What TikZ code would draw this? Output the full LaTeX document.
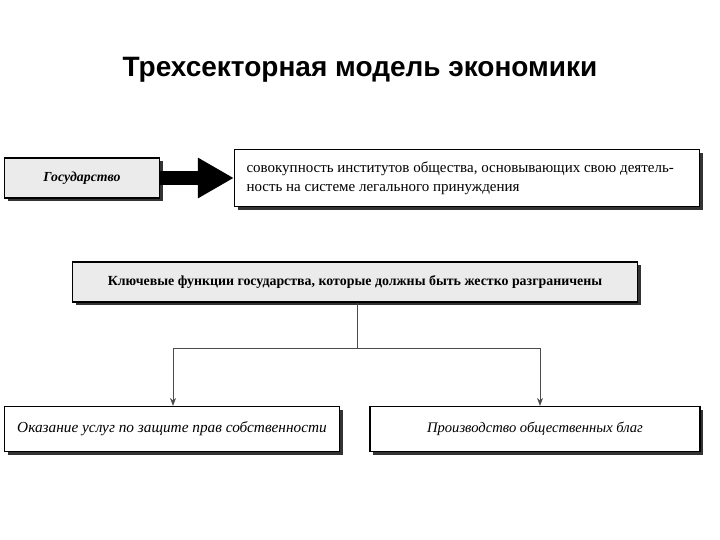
\documentclass[tikz,border=0pt]{standalone}
\usepackage{fontspec}
\setmainfont{Liberation Serif}
\newfontfamily\titlefont{Liberation Sans}
\usetikzlibrary{arrows.meta}
\tikzset{
 gbox/.style={draw=black,line width=1.2pt,fill=black!8,inner sep=4pt},
 wbox/.style={draw=black,line width=1.2pt,fill=white,inner sep=6pt},
 conn/.style={draw=black!70,line width=0.7pt,-{Stealth[length=8pt,width=6pt]}}
}
\begin{document}
\begin{tikzpicture}[x=1pt,y=-1pt]
\useasboundingbox (0,0) rectangle (720,540);
\node[font=\titlefont\bfseries\fontsize{28}{32}\selectfont] (title) at (360,70) {Трехсекторная модель экономики};
% shadows
\fill[black!80] (8,161) rectangle (163,201);
\fill[black!80] (76,265) rectangle (641,305);
\fill[black!80] (238,153) rectangle (703,210);
\fill[black!80] (8,410) rectangle (343,455);
\fill[black!80] (373,410) rectangle (703,455);
\node[gbox,minimum width=155pt,minimum height=40pt,font=\bfseries\itshape\fontsize{13.8}{16}\selectfont] (gos) at (82,178) {Государство};
\node[wbox,minimum width=465pt,minimum height=57pt,text width=441pt,align=justify,font=\fontsize{15}{19}\selectfont] (def) at (467,178)
 {совокупность институтов общества, основывающих свою деятель-\\ность на системе легального принуждения};
\node[gbox,minimum width=565pt,minimum height=40pt,font=\bfseries\fontsize{13.9}{16}\selectfont] (key) at (355,282) {Ключевые функции государства, которые должны быть жестко разграничены};
\node[wbox,minimum width=335pt,minimum height=45pt,font=\itshape\fontsize{15.3}{18}\selectfont] (left) at (172,429) {Оказание услуг по защите прав собственности};
\node[wbox,minimum width=330pt,minimum height=45pt,font=\itshape\fontsize{14.6}{17}\selectfont] (right) at (535,429) {Производство общественных благ};
\draw[line width=14pt,-{Triangle[length=36pt,width=38pt]}] (gos.east) -- (def.west);
\coordinate (split) at (357,348);
\draw[black!70,line width=0.7pt] (key.south -| split) -- (split);
\draw[conn] (split) -| (left.north -| 173,0);
\draw[conn] (split) -| (right.north -| 540,0);
\end{tikzpicture}
\end{document}
